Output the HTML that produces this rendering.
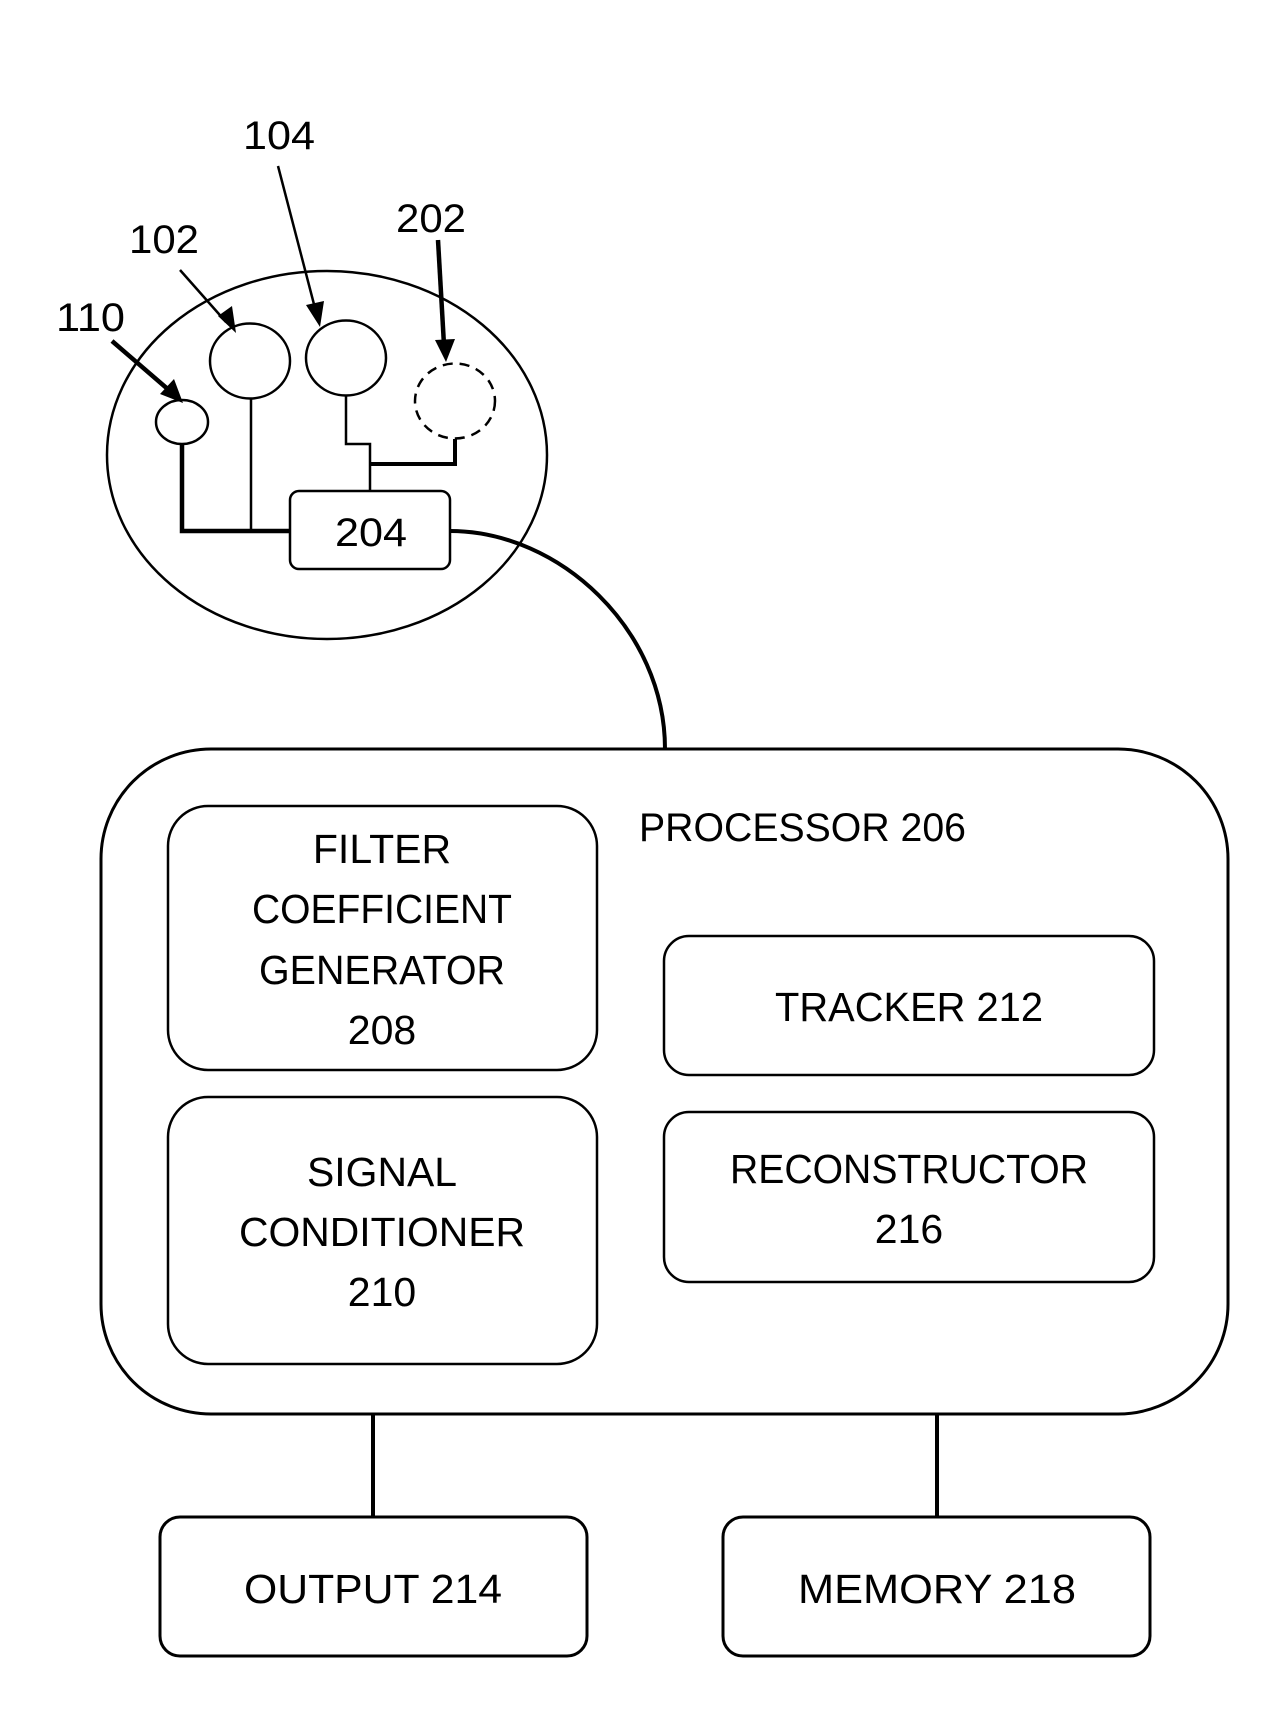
<!DOCTYPE html>
<html><head><meta charset="utf-8"><style>
html,body{margin:0;padding:0;background:#fff;}
svg{display:block;}
text{font-family:"Liberation Sans",sans-serif;fill:#000;}
</style></head><body>
<svg width="1285" height="1732" viewBox="0 0 1285 1732" xmlns="http://www.w3.org/2000/svg">
<defs>
<marker id="ah" markerWidth="10" markerHeight="10" refX="9" refY="5" orient="auto" markerUnits="userSpaceOnUse" viewBox="0 0 10 10">
</marker>
</defs>
<g fill="none" stroke="#000">
  <ellipse cx="327" cy="455" rx="220" ry="184" stroke-width="2.5"/>
  <ellipse cx="182" cy="422" rx="26" ry="22" stroke-width="2.5"/>
  <ellipse cx="250" cy="361" rx="40" ry="37.5" stroke-width="2.5"/>
  <ellipse cx="346" cy="358" rx="40" ry="37.5" stroke-width="2.5"/>
  <ellipse cx="455" cy="401" rx="40" ry="37.5" stroke-width="2.5" stroke-dasharray="10,7"/>
  <rect x="290" y="491" width="160" height="78" rx="9" stroke-width="2.5"/>
  <polyline points="182,444 182,531 290,531" stroke-width="4.5"/>
  <line x1="251" y1="399" x2="251" y2="531" stroke-width="2.5"/>
  <polyline points="346,396 346,444 370,444 370,491" stroke-width="2.5"/>
  <polyline points="455,439 455,464 370,464" stroke-width="4"/>
  <path d="M450,531 C560,531 665,630 665,749" stroke-width="4"/>
  <!-- arrows -->
  <line x1="278" y1="166" x2="316" y2="312" stroke-width="2.5"/>
  <line x1="180" y1="270" x2="226" y2="322" stroke-width="2.5"/>
  <line x1="112" y1="341" x2="170" y2="391" stroke-width="4.5"/>
  <line x1="438" y1="240" x2="444" y2="345" stroke-width="4.5"/>
  <!-- processor -->
  <rect x="101" y="749" width="1127" height="665" rx="110" stroke-width="3"/>
  <rect x="168" y="806" width="429" height="264" rx="40" stroke-width="2.5"/>
  <rect x="168" y="1097" width="429" height="267" rx="40" stroke-width="2.5"/>
  <rect x="664" y="936" width="490" height="139" rx="25" stroke-width="2.5"/>
  <rect x="664" y="1112" width="490" height="170" rx="25" stroke-width="2.5"/>
  <rect x="160" y="1517" width="427" height="139" rx="20" stroke-width="3"/>
  <rect x="723" y="1517" width="427" height="139" rx="20" stroke-width="3"/>
  <line x1="373" y1="1414" x2="373" y2="1517" stroke-width="4"/>
  <line x1="937" y1="1414" x2="937" y2="1517" stroke-width="4"/>
</g>
<g fill="#000">
  <polygon points="320,327 306,305 324,301"/>
  <polygon points="236,333 218,316 232,306"/>
  <polygon points="183,403 160,394 174,379"/>
  <polygon points="446,362 435,340 455,339"/>
</g>
<g font-size="40">
  <text x="243" y="149" textLength="72" lengthAdjust="spacingAndGlyphs">104</text>
  <text x="396" y="232" textLength="70" lengthAdjust="spacingAndGlyphs">202</text>
  <text x="129" y="253" textLength="70" lengthAdjust="spacingAndGlyphs">102</text>
  <text x="56" y="331" textLength="69" lengthAdjust="spacingAndGlyphs">110</text>
  <text x="335" y="546" textLength="72" lengthAdjust="spacingAndGlyphs">204</text>
  <text x="639" y="841" textLength="327" lengthAdjust="spacingAndGlyphs">PROCESSOR 206</text>
</g>
<g font-size="41" text-anchor="middle">
  <text x="382" y="863">FILTER</text>
  <text x="382" y="923" textLength="260" lengthAdjust="spacingAndGlyphs">COEFFICIENT</text>
  <text x="382" y="984" textLength="246" lengthAdjust="spacingAndGlyphs">GENERATOR</text>
  <text x="382" y="1044">208</text>
  <text x="382" y="1186" textLength="150" lengthAdjust="spacingAndGlyphs">SIGNAL</text>
  <text x="382" y="1246" textLength="286" lengthAdjust="spacingAndGlyphs">CONDITIONER</text>
  <text x="382" y="1306">210</text>
  <text x="909" y="1021" textLength="268" lengthAdjust="spacingAndGlyphs">TRACKER 212</text>
  <text x="909" y="1183" textLength="358" lengthAdjust="spacingAndGlyphs">RECONSTRUCTOR</text>
  <text x="909" y="1243">216</text>
  <text x="373" y="1603" textLength="258" lengthAdjust="spacingAndGlyphs">OUTPUT 214</text>
  <text x="937" y="1603" textLength="278" lengthAdjust="spacingAndGlyphs">MEMORY 218</text>
</g>
</svg>
</body></html>
